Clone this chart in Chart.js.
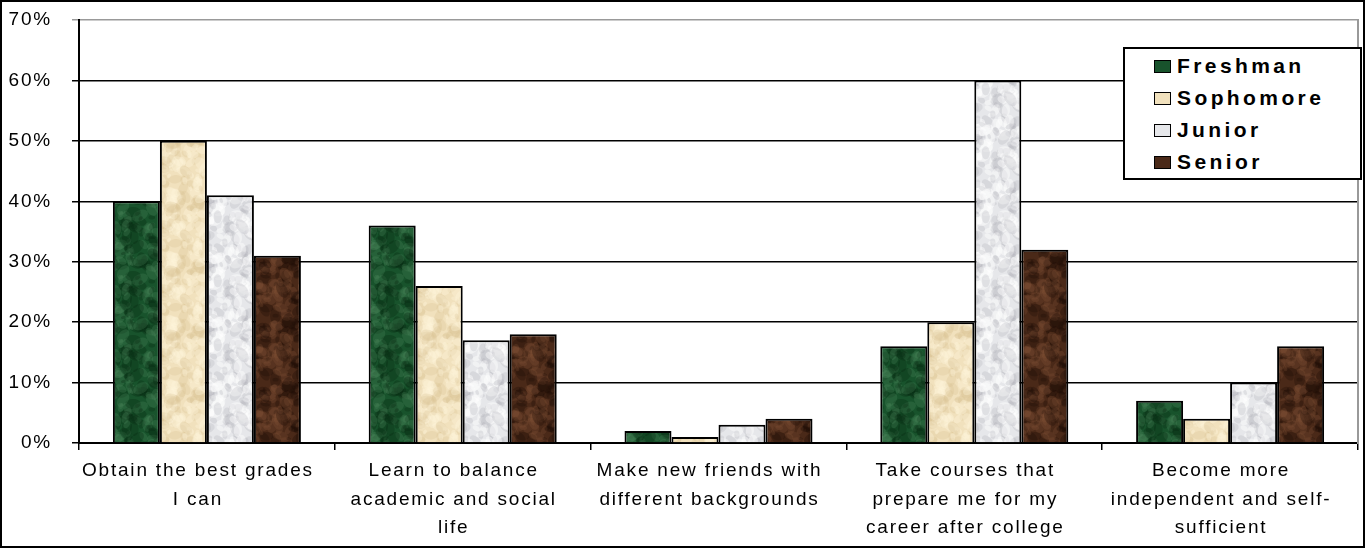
<!DOCTYPE html>
<html>
<head>
<meta charset="utf-8">
<script src="https://cdn.jsdelivr.net/npm/chart.js@4.4.1/dist/chart.umd.min.js"></script>
<style>
  html, body { margin: 0; padding: 0; background: #fff; }
  #wrap { position: relative; width: 1365px; height: 548px; }
  #frame { position: absolute; left: 0; top: 0; width: 1365px; height: 548px; box-sizing: border-box; border: 2px solid #000; pointer-events: none; }
  #legend { position: absolute; left: 1123px; top: 47px; width: 239px; height: 133px; box-sizing: border-box; border: 2px solid #000; background: #fff; padding-top: 1px; }
  #legend .item { display: flex; align-items: center; height: 32px; padding-left: 29px; font-family: "Liberation Sans", Arial, sans-serif; font-weight: bold; font-size: 21px; letter-spacing: 3.4px; color: #000; }
  #legend .sw { width: 15px; height: 11px; border: 1px solid #000; margin-right: 6px; }
</style>
</head>
<body>
<div id="wrap">
  <canvas id="chart" width="1365" height="548"></canvas>
  <div id="legend"></div>
  <div id="frame"></div>
</div>
<script>
const categories = [
  ["Obtain the best grades", "I can"],
  ["Learn to balance", "academic and social", "life"],
  ["Make new friends with", "different backgrounds"],
  ["Take courses that", "prepare me for my", "career after college"],
  ["Become more", "independent and self-", "sufficient"]
];
const seriesNames = ["Freshman", "Sophomore", "Junior", "Senior"];
const freshman = [40, 36, 2, 16, 7];
const sophomore = [50, 26, 1, 20, 4];
const junior = [41, 17, 3, 60, 10];
const senior = [31, 18, 4, 32, 16];
const seriesColors = ["#18532c", "#f1e1bd", "#e6e7ea", "#4a2918"];
// light / dark mottling for the marble-like fills
const mottle = [
  ["rgba(80,140,95,0.25)", "rgba(5,40,18,0.3)"],
  ["rgba(255,245,222,0.35)", "rgba(215,190,145,0.25)"],
  ["rgba(255,255,255,0.45)", "rgba(170,172,178,0.25)"],
  ["rgba(130,85,55,0.25)", "rgba(30,12,5,0.3)"]
];

// fixed-seed generator, only used for the texture
function lcg(seed) {
  let s = seed;
  return () => { s = (s * 1664525 + 1013904223) % 4294967296; return s / 4294967296; };
}

function makeTexture(base, tones, seed) {
  const c = document.createElement("canvas");
  c.width = 64; c.height = 64;
  const g = c.getContext("2d");
  g.fillStyle = base;
  g.fillRect(0, 0, 64, 64);
  const rnd = lcg(seed);
  for (let i = 0; i < 120; i++) {
    g.fillStyle = tones[i % 2];
    const x = rnd() * 64, y = rnd() * 64, r = 1.5 + rnd() * 4, a = rnd() * Math.PI;
    // draw wrapped copies so the tile repeats without seams
    for (const dx of [-64, 0, 64]) {
      for (const dy of [-64, 0, 64]) {
        g.beginPath();
        g.ellipse(x + dx, y + dy, r * 1.6, r, a, 0, Math.PI * 2);
        g.fill();
      }
    }
  }
  return g.createPattern(c, "repeat");
}

const spacingPlugin = {
  id: "spacing",
  beforeDraw(chart) { chart.ctx.letterSpacing = "1.8px"; }
};

const axisFont = { family: "'Liberation Sans', Arial, sans-serif", size: 19, lineHeight: 1.5 };

function noVPad(scale) {
  scale.paddingTop = 0;
  scale.paddingBottom = 0;
}

const chart = new Chart(document.getElementById("chart").getContext("2d"), {
  type: "bar",
  data: {
    labels: categories,
    datasets: [freshman, sophomore, junior, senior].map((d, i) => ({
      label: seriesNames[i],
      data: d,
      backgroundColor: makeTexture(seriesColors[i], mottle[i], 17 + i * 31),
      borderColor: "#000",
      borderWidth: 2,
      categoryPercentage: 0.735,
      barPercentage: 1
    }))
  },
  options: {
    responsive: false,
    animation: false,
    layout: { padding: { top: 20, right: 7, bottom: 0, left: 0 } },
    plugins: {
      legend: { display: false },
      tooltip: { enabled: false }
    },
    scales: {
      x: {
        grid: { offset: true, drawOnChartArea: false, color: "#000", lineWidth: 1.5, tickLength: 7 },
        border: { color: "#000", width: 2 },
        ticks: { color: "#000", font: axisFont, padding: 7, labelOffset: -9, maxRotation: 0, autoSkip: false },
        afterFit(scale) { scale.height = 105; }
      },
      y: {
        min: 0,
        max: 70,
        ticks: { stepSize: 10, color: "#000", font: axisFont, padding: 20, callback: v => v + "%" },
        grid: {
          color: ctx => ctx.tick && ctx.tick.value === 70 ? "#999" : "#000",
          lineWidth: 1.5,
          tickLength: 7
        },
        border: { color: "#000", width: 2 },
        afterFit(scale) { scale.width = 79; noVPad(scale); }
      },
      y2: {
        position: "right",
        min: 0,
        max: 70,
        ticks: { display: false },
        grid: { display: false },
        border: { color: "#999", width: 2 },
        afterFit(scale) { scale.width = 0; noVPad(scale); }
      }
    }
  },
  plugins: [spacingPlugin]
});

// legend built from the datasets
const legend = document.getElementById("legend");
chart.data.datasets.forEach((ds, i) => {
  const item = document.createElement("div");
  item.className = "item";
  const sw = document.createElement("span");
  sw.className = "sw";
  sw.style.background = seriesColors[i];
  item.appendChild(sw);
  item.appendChild(document.createTextNode(ds.label));
  legend.appendChild(item);
});
</script>
</body>
</html>
